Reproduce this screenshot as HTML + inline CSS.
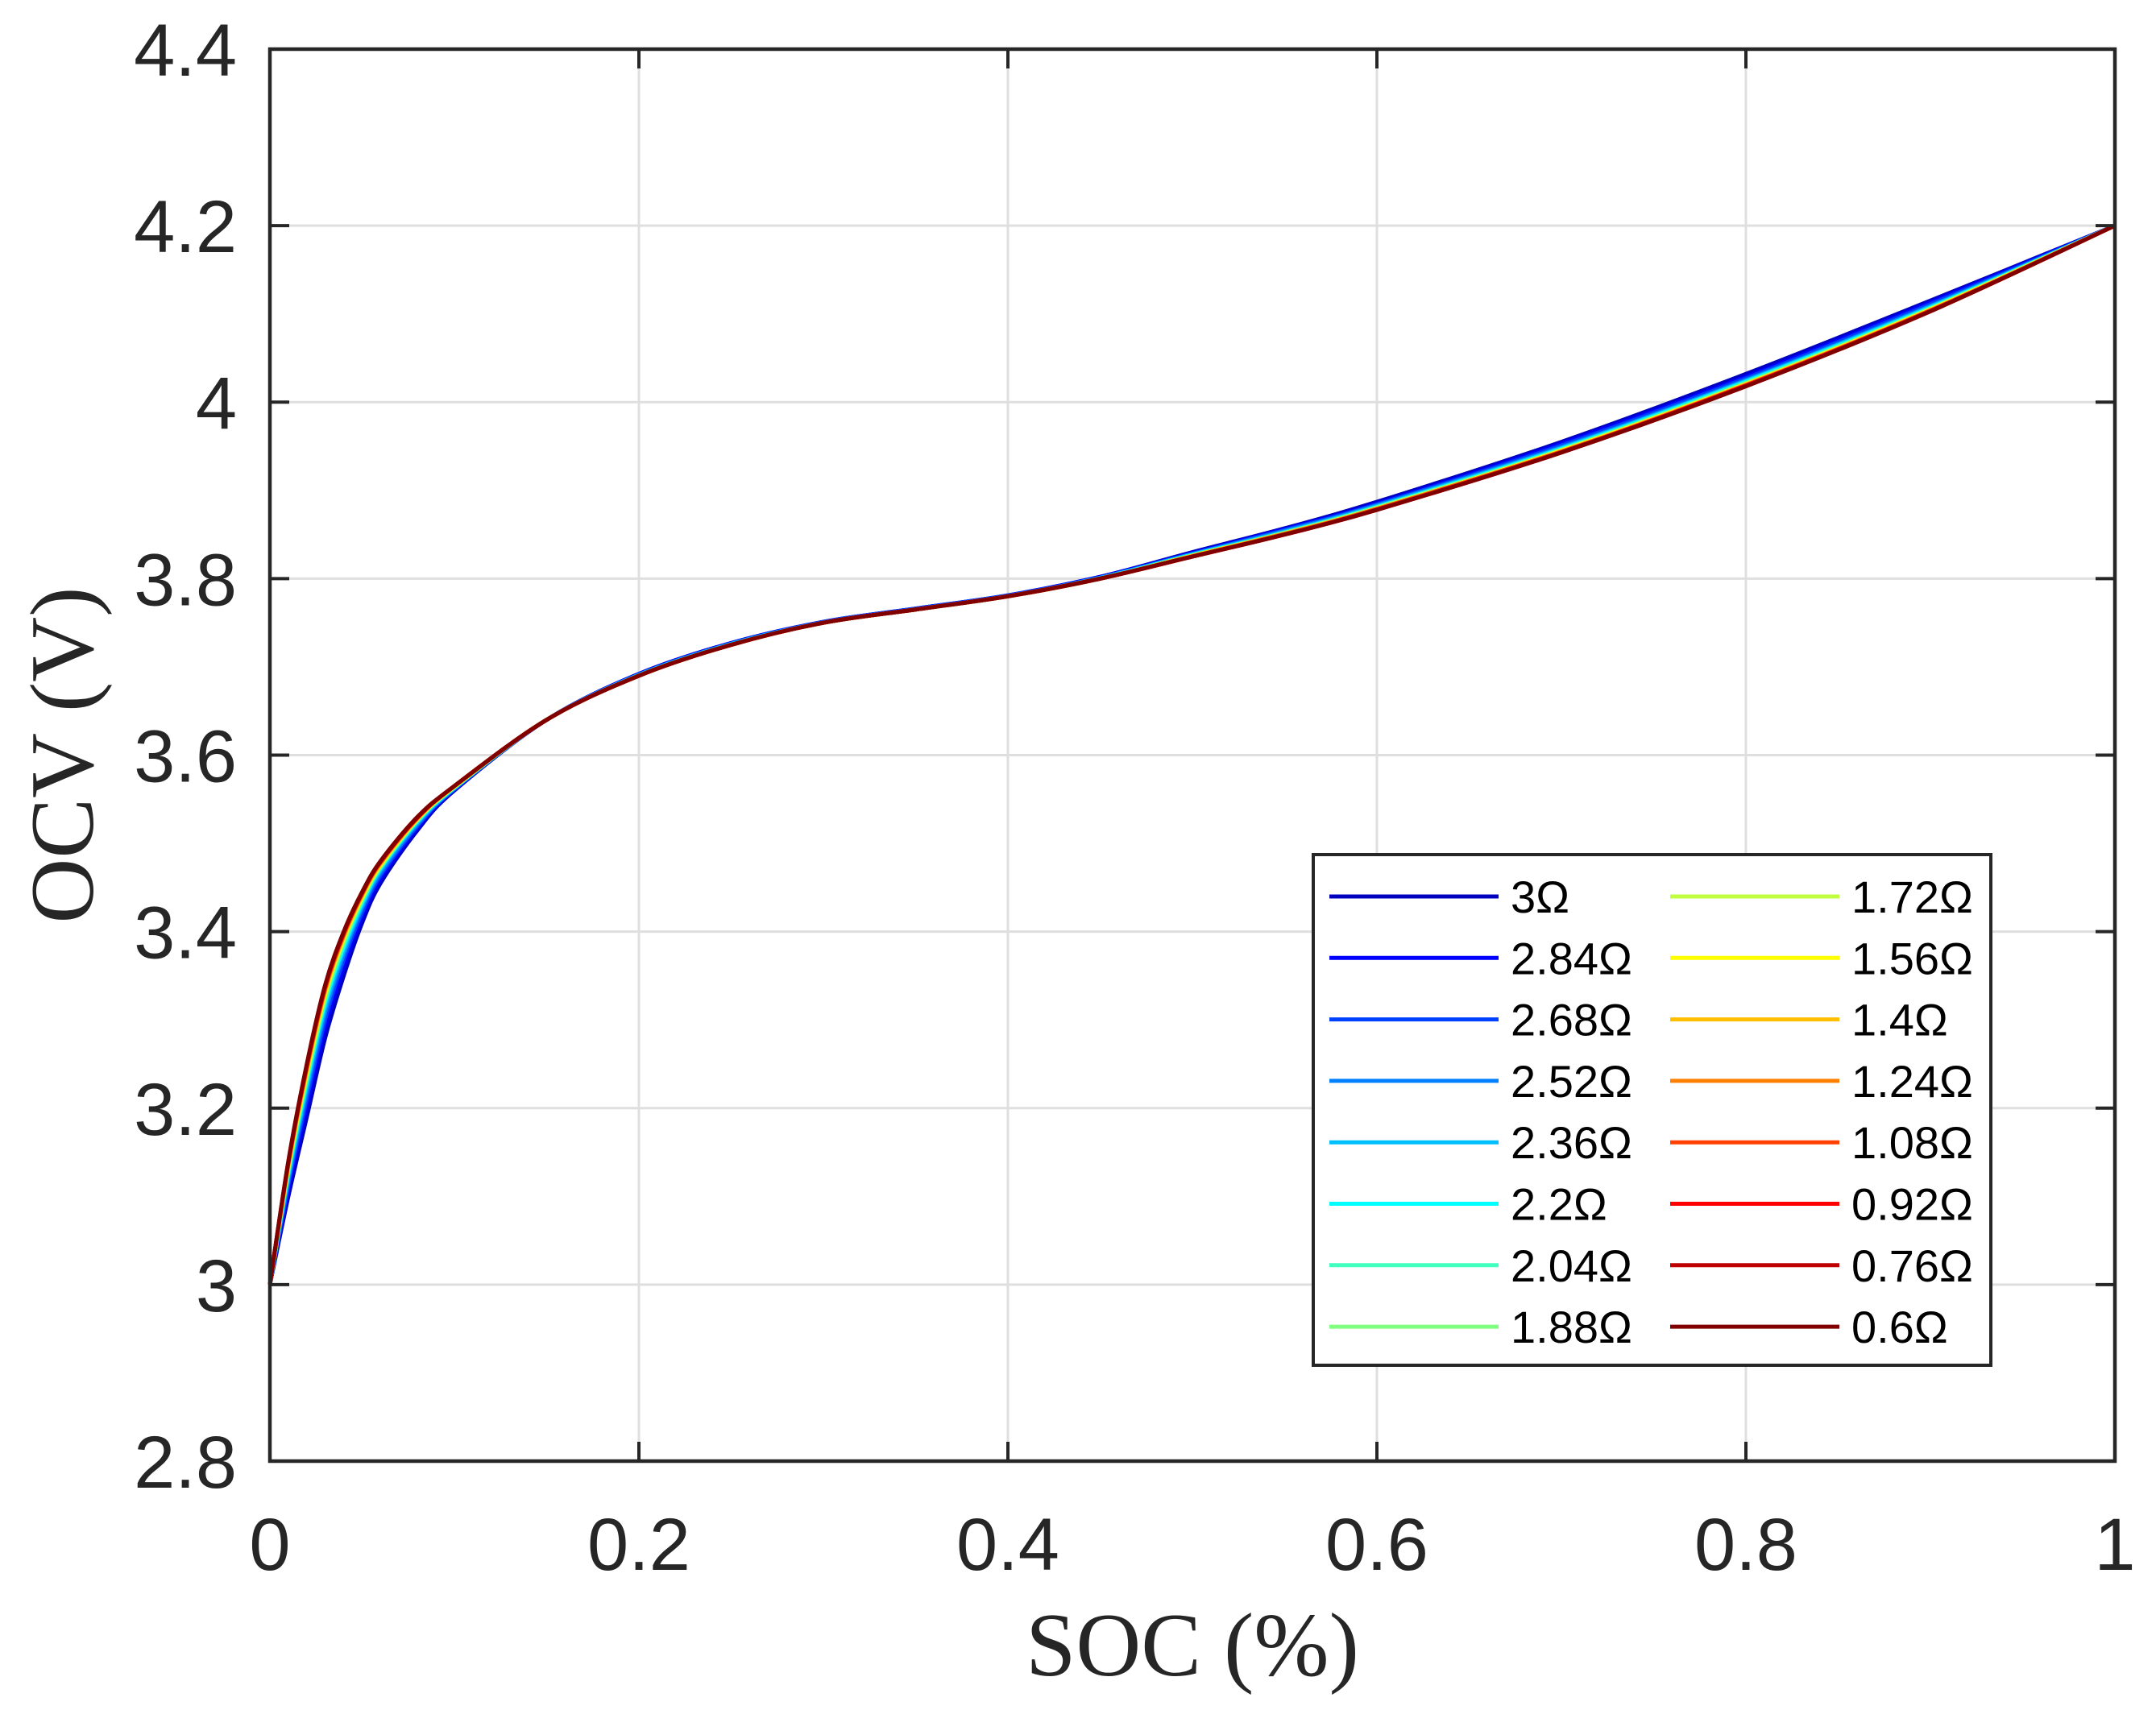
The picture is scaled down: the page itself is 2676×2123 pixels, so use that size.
<!DOCTYPE html>
<html><head><meta charset="utf-8"><style>
html,body{margin:0;padding:0;background:#fff;}
svg{display:block;}
</style></head><body>
<svg id="chart" xmlns="http://www.w3.org/2000/svg" width="2676" height="2123" viewBox="0 0 2676 2123">
<rect x="0" y="0" width="2676" height="2123" fill="#fff"/>
<g id="grid"></g>
<g id="series"></g>
<g id="axes"></g>
<g id="legend"></g>
</svg>
<script>
const xTicks = [0, 0.2, 0.4, 0.6, 0.8, 1];
const xTickLabels = ["0", "0.2", "0.4", "0.6", "0.8", "1"];
const yTicks = [2.8, 3.0, 3.2, 3.4, 3.6, 3.8, 4.0, 4.2, 4.4];
const yTickLabels = ["2.8", "3", "3.2", "3.4", "3.6", "3.8", "4", "4.2", "4.4"];
const soc = [0,0.01,0.02,0.03,0.04,0.05,0.06,0.08,0.1,0.15,0.2,0.25,0.3,0.35,0.4,0.45,0.5,0.55,0.6,0.7,0.8,0.9,1.0];
const seriesNames = ["3Ω","2.84Ω","2.68Ω","2.52Ω","2.36Ω","2.2Ω","2.04Ω","1.88Ω","1.72Ω","1.56Ω","1.4Ω","1.24Ω","1.08Ω","0.92Ω","0.76Ω","0.6Ω"];
const seriesColors = ["#0000BF","#0000FF","#0040FF","#0080FF","#00BFFF","#00FFFF","#40FFBF","#80FF80","#BFFF40","#FFFF00","#FFBF00","#FF8000","#FF4000","#FF0000","#BF0000","#800000"];
const ocv3_00 = [3.0,3.100,3.190,3.280,3.350,3.410,3.455,3.515,3.560,3.640,3.692,3.727,3.751,3.766,3.781,3.802,3.830,3.857,3.887,3.955,4.032,4.115,4.2];
const ocv2_84 = [3.0,3.108,3.202,3.292,3.360,3.417,3.460,3.518,3.561,3.640,3.692,3.727,3.751,3.766,3.781,3.802,3.829,3.856,3.885,3.953,4.029,4.113,4.2];
const ocv2_68 = [3.0,3.114,3.211,3.301,3.368,3.422,3.464,3.520,3.562,3.640,3.691,3.726,3.751,3.766,3.781,3.801,3.828,3.855,3.884,3.951,4.027,4.111,4.2];
const ocv2_52 = [3.0,3.119,3.219,3.309,3.374,3.427,3.467,3.522,3.562,3.640,3.691,3.726,3.750,3.765,3.780,3.801,3.828,3.854,3.883,3.949,4.025,4.109,4.2];
const ocv2_36 = [3.0,3.123,3.225,3.315,3.379,3.430,3.470,3.524,3.563,3.640,3.691,3.726,3.750,3.765,3.780,3.801,3.827,3.853,3.882,3.948,4.024,4.108,4.2];
const ocv2_20 = [3.0,3.126,3.230,3.320,3.383,3.433,3.472,3.525,3.563,3.640,3.690,3.725,3.750,3.765,3.780,3.800,3.827,3.852,3.881,3.947,4.023,4.107,4.2];
const ocv2_04 = [3.0,3.129,3.233,3.323,3.386,3.435,3.473,3.526,3.564,3.640,3.690,3.725,3.750,3.765,3.780,3.800,3.826,3.852,3.881,3.946,4.022,4.106,4.2];
const ocv1_88 = [3.0,3.131,3.236,3.326,3.389,3.437,3.474,3.527,3.564,3.640,3.690,3.725,3.750,3.765,3.780,3.800,3.826,3.852,3.880,3.946,4.021,4.106,4.2];
const ocv1_72 = [3.0,3.132,3.239,3.329,3.391,3.438,3.475,3.527,3.564,3.640,3.690,3.725,3.750,3.765,3.780,3.800,3.826,3.851,3.880,3.945,4.021,4.105,4.2];
const ocv1_56 = [3.0,3.134,3.241,3.331,3.393,3.440,3.476,3.528,3.564,3.640,3.690,3.725,3.750,3.765,3.780,3.800,3.826,3.851,3.879,3.945,4.020,4.105,4.2];
const ocv1_40 = [3.0,3.135,3.243,3.333,3.394,3.441,3.477,3.528,3.565,3.640,3.690,3.725,3.750,3.765,3.780,3.800,3.826,3.851,3.879,3.944,4.020,4.104,4.2];
const ocv1_24 = [3.0,3.136,3.245,3.335,3.396,3.442,3.478,3.529,3.565,3.640,3.690,3.725,3.750,3.765,3.780,3.800,3.825,3.851,3.879,3.944,4.019,4.104,4.2];
const ocv1_08 = [3.0,3.138,3.246,3.336,3.397,3.443,3.479,3.529,3.565,3.640,3.690,3.725,3.750,3.765,3.780,3.800,3.825,3.850,3.879,3.944,4.019,4.104,4.2];
const ocv0_92 = [3.0,3.138,3.248,3.338,3.398,3.444,3.479,3.529,3.565,3.640,3.690,3.725,3.750,3.765,3.780,3.800,3.825,3.850,3.878,3.943,4.019,4.103,4.2];
const ocv0_76 = [3.0,3.139,3.249,3.339,3.399,3.444,3.480,3.530,3.565,3.640,3.690,3.725,3.750,3.765,3.780,3.800,3.825,3.850,3.878,3.943,4.018,4.103,4.2];
const ocv0_60 = [3.0,3.140,3.250,3.340,3.400,3.445,3.480,3.530,3.565,3.640,3.690,3.725,3.750,3.765,3.780,3.800,3.825,3.850,3.878,3.943,4.018,4.103,4.2];
const seriesValues = [ocv3_00,ocv2_84,ocv2_68,ocv2_52,ocv2_36,ocv2_20,ocv2_04,ocv1_88,ocv1_72,ocv1_56,ocv1_40,ocv1_24,ocv1_08,ocv0_92,ocv0_76,ocv0_60];

const NS = "http://www.w3.org/2000/svg";
const L = 335, R = 2625, T = 61, B = 1814;
const xMin = 0, xMax = 1, yMin = 2.8, yMax = 4.4;
function xs(v){ return L + (v - xMin) / (xMax - xMin) * (R - L); }
function ys(v){ return B - (v - yMin) / (yMax - yMin) * (B - T); }
function mk(tag, attrs, parent){
  const e = document.createElementNS(NS, tag);
  for (const k in attrs) e.setAttribute(k, attrs[k]);
  parent.appendChild(e);
  return e;
}
const grid = document.getElementById('grid');
const axes = document.getElementById('axes');
const seriesG = document.getElementById('series');
const legend = document.getElementById('legend');

xTicks.forEach((t, i) => {
  const x = xs(t);
  if (i > 0 && i < xTicks.length - 1) {
    const g = mk('line', {x1:x, x2:x, y1:T, y2:B, stroke:'#dfdfdf', 'stroke-width':3}, grid);
    
    
  }
  const tk1 = mk('line', {x1:x, x2:x, y1:B, y2:B-24, stroke:'#262626', 'stroke-width':4}, axes);
  
  
  const tk2 = mk('line', {x1:x, x2:x, y1:T, y2:T+24, stroke:'#262626', 'stroke-width':4}, axes);
  
  
  const lb = mk('text', {x:x, y:1949, 'text-anchor':'middle', 'font-family':'"Liberation Sans", Arial, sans-serif', 'font-size':92, fill:'#262626'}, axes);
  lb.textContent = xTickLabels[i];
  
  
});
yTicks.forEach((t, i) => {
  const y = ys(t);
  if (i > 0 && i < yTicks.length - 1) {
    const g = mk('line', {x1:L, x2:R, y1:y, y2:y, stroke:'#dfdfdf', 'stroke-width':3}, grid);
    
    
  }
  const tk1 = mk('line', {x1:L, x2:L+24, y1:y, y2:y, stroke:'#262626', 'stroke-width':4}, axes);
  
  
  const tk2 = mk('line', {x1:R, x2:R-24, y1:y, y2:y, stroke:'#262626', 'stroke-width':4}, axes);
  
  
  const lb = mk('text', {x:294, y:y+33, 'text-anchor':'end', 'font-family':'"Liberation Sans", Arial, sans-serif', 'font-size':92, fill:'#262626'}, axes);
  lb.textContent = yTickLabels[i];
  
  
});
const box = mk('rect', {x:L, y:T, width:R-L, height:B-T, fill:'none', stroke:'#262626', 'stroke-width':4.5}, axes);



const xt = mk('text', {x:(L+R)/2, y:2080, 'text-anchor':'middle', 'font-family':'"Liberation Serif", "Times New Roman", serif', 'font-size':112, fill:'#262626'}, axes);
xt.textContent = 'SOC (%)';


const yt = mk('text', {x:0, y:0, 'text-anchor':'middle', 'font-family':'"Liberation Serif", "Times New Roman", serif', 'font-size':112, fill:'#262626', transform:'translate(115,'+((T+B)/2)+') rotate(-90)'}, axes);
yt.textContent = 'OCV (V)';



function smoothPath(pts){
  let d = 'M' + pts[0][0].toFixed(2) + ',' + pts[0][1].toFixed(2);
  for (let i = 0; i < pts.length - 1; i++) {
    const p0 = pts[i-1] || pts[i], p1 = pts[i], p2 = pts[i+1], p3 = pts[i+2] || pts[i+1];
    const c1x = p1[0] + (p2[0]-p0[0])/6, c1y = p1[1] + (p2[1]-p0[1])/6;
    const c2x = p2[0] - (p3[0]-p1[0])/6, c2y = p2[1] - (p3[1]-p1[1])/6;
    d += ' C' + c1x.toFixed(2)+','+c1y.toFixed(2)+' '+c2x.toFixed(2)+','+c2y.toFixed(2)+' '+p2[0].toFixed(2)+','+p2[1].toFixed(2);
  }
  return d;
}
seriesValues.forEach((vals, k) => {
  const pts = soc.map((s, i) => [xs(s), ys(vals[i])]);
  const p = mk('path', {d:smoothPath(pts), fill:'none', stroke:seriesColors[k], 'stroke-width':5, 'stroke-linejoin':'round'}, seriesG);
  
  
});

const lgX = 1630, lgY = 1061, lgW = 841, lgH = 634;
const lb = mk('rect', {x:lgX, y:lgY, width:lgW, height:lgH, fill:'#fff', stroke:'#262626', 'stroke-width':4}, legend);


seriesNames.forEach((n, k) => {
  const col = Math.floor(k / 8), row = k % 8;
  const y = 1113 + row * 76.3;
  const x0 = col === 0 ? 1650 : 2073;
  const g = mk('g', {}, legend);
  
  
  mk('line', {x1:x0, x2:x0+210, y1:y, y2:y, stroke:seriesColors[k], 'stroke-width':5}, g);
  const t = mk('text', {x:x0+225, y:y+20, 'font-family':'"Liberation Sans", Arial, sans-serif', 'font-size':56, fill:'#000'}, g);
  t.textContent = n;
});
</script>
</body></html>
